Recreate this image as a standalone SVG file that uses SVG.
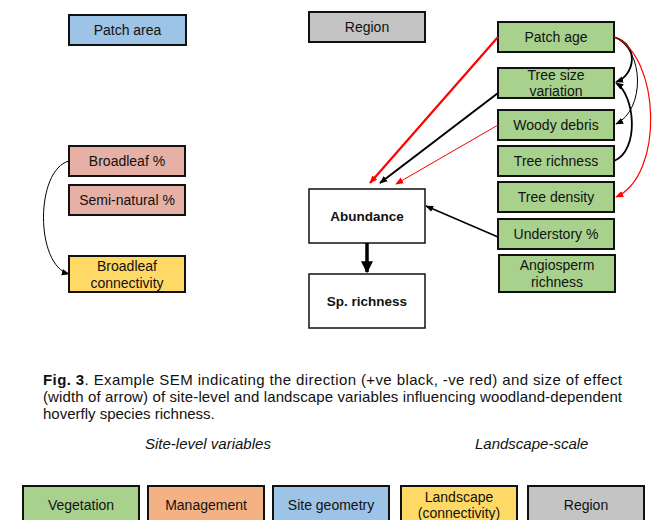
<svg xmlns="http://www.w3.org/2000/svg" width="663" height="520" viewBox="0 0 663 520">
<defs>
<style>
text{font-family:"Liberation Sans",Arial,sans-serif;fill:#111}
.lbl{font-size:14px;text-anchor:middle}
.leg{font-size:14px;text-anchor:middle}
.bold{font-size:13.5px;font-weight:bold;text-anchor:middle}
.box{stroke:#111;stroke-width:2}
.veg{fill:#a9d18e}.man{fill:#f4b183}.geo{fill:#9dc3e6}.land{fill:#ffd966}.reg{fill:#c4c4c4}.brd{fill:#e6b0a4}.wht{fill:#fff;stroke-width:1.5}
.cap{font-size:15px}
.ital{font-size:15px;font-style:italic}
.c{fill:none}
</style>
<marker id="ab" viewBox="0 0 10 10" refX="9" refY="5" markerWidth="8" markerHeight="8" markerUnits="userSpaceOnUse" orient="auto"><path d="M0,1 L10,5 L0,9 z" fill="#000"/></marker>
<marker id="ar" viewBox="0 0 10 10" refX="9" refY="5" markerWidth="8" markerHeight="8" markerUnits="userSpaceOnUse" orient="auto"><path d="M0,1 L10,5 L0,9 z" fill="#f00"/></marker>
<marker id="abl" viewBox="0 0 10 10" refX="9" refY="5" markerWidth="12" markerHeight="12" markerUnits="userSpaceOnUse" orient="auto"><path d="M0,0 L10,5 L0,10 z" fill="#000"/></marker>
</defs>

<g id="patch-area"><rect class="box geo" x="69" y="15" width="117" height="30"/><text class="lbl" x="127.5" y="35">Patch area</text></g>
<g id="region-top"><rect class="box reg" x="309" y="12" width="116" height="30"/><text class="lbl" x="367" y="32">Region</text></g>

<g id="patch-age"><rect class="box veg" x="498" y="22" width="116" height="30"/><text class="lbl" x="556" y="42">Patch age</text></g>
<g id="tree-size"><rect class="box veg" x="498" y="68" width="116" height="30"/><text class="lbl" x="556" y="80">Tree size</text><text class="lbl" x="556" y="96">variation</text></g>
<g id="woody-debris"><rect class="box veg" x="498" y="110" width="116" height="30"/><text class="lbl" x="556" y="130">Woody debris</text></g>
<g id="tree-richness"><rect class="box veg" x="498" y="146" width="116" height="30"/><text class="lbl" x="556" y="166">Tree richness</text></g>
<g id="tree-density"><rect class="box veg" x="498" y="182" width="116" height="30"/><text class="lbl" x="556" y="202">Tree density</text></g>
<g id="understory"><rect class="box veg" x="498" y="219" width="116" height="30"/><text class="lbl" x="556" y="239">Understory %</text></g>
<g id="angiosperm"><rect class="box veg" x="499" y="255" width="116" height="37"/><text class="lbl" x="557" y="270">Angiosperm</text><text class="lbl" x="557" y="287">richness</text></g>

<g id="abundance"><rect class="box wht" x="309" y="189" width="116" height="54"/><text class="bold" x="367" y="221">Abundance</text></g>
<g id="sp-richness"><rect class="box wht" x="309" y="274" width="116" height="54"/><text class="bold" x="367" y="306">Sp. richness</text></g>

<g id="broadleaf"><rect class="box brd" x="69" y="146" width="116" height="30"/><text class="lbl" x="127" y="166">Broadleaf %</text></g>
<g id="semi-natural"><rect class="box brd" x="69" y="185" width="116" height="30"/><text class="lbl" x="127" y="205">Semi-natural %</text></g>
<g id="broadleaf-conn"><rect class="box land" x="69" y="256" width="116" height="36"/><text class="lbl" x="127" y="271">Broadleaf</text><text class="lbl" x="127" y="288">connectivity</text></g>

<g id="connectors">
<path class="c" d="M498,37 L370,183" stroke="#f00" stroke-width="2.2" marker-end="url(#ar)"/>
<path class="c" d="M498,93 L380,183" stroke="#000" stroke-width="2" marker-end="url(#ab)"/>
<path class="c" d="M498,125 L396,184" stroke="#f00" stroke-width="1" marker-end="url(#ar)"/>
<path class="c" d="M498,237 L426,206" stroke="#000" stroke-width="1.5" marker-end="url(#ab)"/>
<path class="c" d="M367,243 L367,272" stroke="#000" stroke-width="3.5" marker-end="url(#abl)"/>
<path class="c" d="M614,37 C640,45 635,75 616,82" stroke="#000" stroke-width="1.8" marker-end="url(#ab)"/>
<path class="c" d="M614,37 C645,50 645,110 616,124" stroke="#000" stroke-width="1" marker-end="url(#ab)"/>
<path class="c" d="M614,161 C640,150 635,95 616,83" stroke="#000" stroke-width="1.8" marker-end="url(#ab)"/>
<path class="c" d="M614,37 C660,55 665,175 616,197" stroke="#f00" stroke-width="1.2" marker-end="url(#ar)"/>
<path class="c" d="M69,161 C35,170 35,265 69,274" stroke="#000" stroke-width="1" marker-end="url(#ab)"/>
</g>

<text class="cap" x="43" y="385" textLength="579" lengthAdjust="spacing"><tspan font-weight="bold">Fig. 3</tspan>. Example SEM indicating the direction (+ve black, -ve red) and size of effect</text>
<text class="cap" x="43" y="402" textLength="579" lengthAdjust="spacing">(width of arrow) of site-level and landscape variables influencing woodland-dependent</text>
<text class="cap" x="43" y="419">hoverfly species richness.</text>
<text class="ital" x="145" y="449">Site-level variables</text>
<text class="ital" x="475" y="449">Landscape-scale</text>

<g id="leg-veg"><rect class="box veg" x="23" y="486" width="116" height="40"/><text class="leg" x="81" y="510">Vegetation</text></g>
<g id="leg-man"><rect class="box man" x="148" y="486" width="116" height="40"/><text class="leg" x="206" y="510">Management</text></g>
<g id="leg-geo"><rect class="box geo" x="273" y="486" width="116" height="40"/><text class="leg" x="331" y="510">Site geometry</text></g>
<g id="leg-land"><rect class="box land" x="401" y="486" width="116" height="40"/><text class="leg" x="459" y="502">Landscape</text><text class="leg" x="459" y="518">(connectivity)</text></g>
<g id="leg-reg"><rect class="box reg" x="528" y="486" width="116" height="40"/><text class="leg" x="586" y="510">Region</text></g>
</svg>
